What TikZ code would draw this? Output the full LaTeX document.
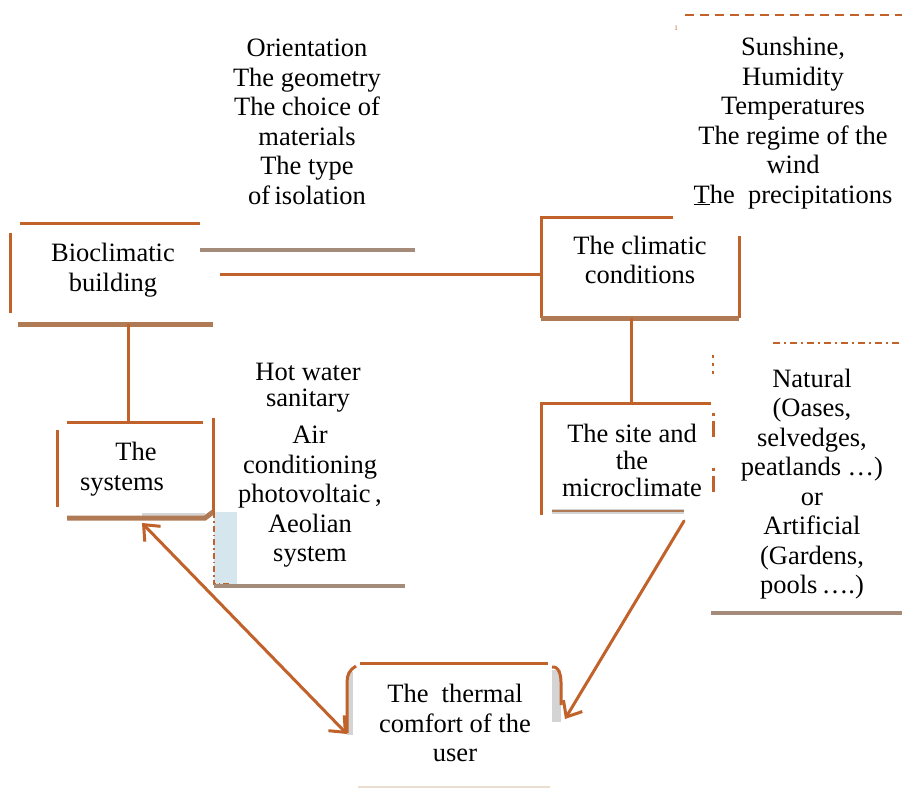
\documentclass[tikz,border=0pt]{standalone}
\usepackage{fontspec}
\setmainfont{Liberation Serif}
\usetikzlibrary{arrows.meta}
\definecolor{rust}{RGB}{192,98,42}
\definecolor{taupe}{RGB}{165,140,122}
\definecolor{brownbar}{RGB}{176,122,85}
\definecolor{lightblue}{RGB}{214,230,238}
\definecolor{shadowgray}{RGB}{212,212,212}
\definecolor{beige}{RGB}{236,222,206}
\tikzset{
  txt/.style={inner sep=0pt, align=center, font=\fontsize{26.5}{29.5}\selectfont},
  rline/.style={draw=rust, line width=3pt},
  tline/.style={draw=taupe, line width=3.5pt},
  bbar/.style={draw=brownbar, line width=5pt},
  arr/.style={draw=rust, line width=3pt, line cap=round,
    arrows={Straight Barb[length=13pt,width=22pt,line width=3pt]-Straight Barb[length=13pt,width=22pt,line width=3pt]}},
  arrone/.style={draw=rust, line width=3pt, line cap=round,
    arrows={-Straight Barb[length=13pt,width=22pt,line width=3pt]}},
}
\begin{document}
\begin{tikzpicture}[x=1pt,y=-1pt]
\fill[white] (0,0) rectangle (902,789);
\useasboundingbox (0,0) rectangle (902,789);

% ---------- text nodes ----------
\node[txt] (params) at (307,122) {Orientation\\The geometry\\The choice of\\materials\\The type\\of\,isolation};
\node[txt] (climlist) at (793,123) {Sunshine,\\Humidity\\Temperatures\\The regime of the\\wind\\\underline{T}he\ \ precipitations};
\node[inner sep=0pt, text=rust, font=\fontsize{7}{8}\selectfont] (one) at (676,28) {1};
\node[txt] (bio) at (113,270) {Bioclimatic\\building};
\node[txt] (clim) at (640,260) {The climatic\\conditions};
\node[txt, font=\fontsize{26.5}{27}\selectfont] (site) at (632,460) {The site and\\the\\microclimate};
\node[txt] (sys) at (122,469) {\hspace*{28pt}The\\systems};
\node[txt, anchor=base] (hot) at (308,380) {Hot water};
\node[txt, anchor=base] (hot2) at (308,406) {sanitary};
\node[txt] (equip) at (310,497) {Air\\conditioning\\photovoltaic\,,\\Aeolian\\system};
\node[txt] (natural) at (812,484) {Natural\\(Oases,\\selvedges,\\peatlands \ldots)\\or\\Artificial\\(Gardens,\\pools\,\ldots.)};

% ---------- top right dashes ----------
\draw[rust, line width=1.6pt, dash pattern=on 9pt off 6pt] (685,15) -- (902,15);
\draw[rust, line width=1.4pt, dash pattern=on 7pt off 4pt on 2pt off 4pt] (773,343) -- (902,343);
\draw[rust, line width=1.2pt, dash pattern=on 3pt off 5pt] (713,355) -- (713,378);

% ---------- Bioclimatic building box ----------
\draw[rline] (20,223) -- (200,223);
\draw[rline] (10,233) -- (10,313);
\draw[bbar] (18,324) -- (213,324);
\draw[tline] (200,250) -- (415,250);

% ---------- climatic conditions box ----------
\draw[rline] (673,217) -- (541,217) -- (541,318);
\draw[rline] (739,236) -- (739,318);
\draw[bbar] (541,318) -- (739,318);

% ---------- site box ----------
\draw[rline] (711,403) -- (541,403) -- (541,515);
\draw[shadowgray, line width=5pt] (552,511) -- (684,511);
\draw[brownbar, line width=1.8pt] (552,511) -- (684,511);
\draw[rust, line width=3pt, dash pattern=on 3pt off 5pt on 16pt off 100pt] (713,413) -- (713,500);
\draw[rust, line width=3pt, dash pattern=on 3pt off 5pt on 16pt off 100pt] (713,468) -- (713,500);

% ---------- natural box ----------
\draw[tline] (711,613) -- (902,613);

% ---------- systems box ----------
\draw[rline] (67,422) -- (203,422);
\draw[rline] (57,430) -- (57,507);
\draw[rline] (213,418) -- (213,515);
\draw[shadowgray, line width=3pt] (142,514) -- (205,514);
\draw[bbar] (67,518) -- (205,518) -- (213,512);

% ---------- equipment list ----------
\fill[lightblue] (214,512) rectangle (237,585);
\draw[rust, line width=1.5pt, dash pattern=on 6pt off 3pt on 1.5pt off 3pt] (214,512) -- (214,584) -- (230,584);
\draw[tline] (214,586) -- (405,586);

% ---------- thermal comfort box ----------
\node[txt] (comfort) at (455,723) {The~ thermal\\comfort of the\\user};
\fill[shadowgray] (347,672) rectangle (353,735);
\fill[shadowgray] (552,670) rectangle (561,722);
\draw[rline] (360,663) -- (548,663);
\draw[rline] (347,733) -- (347,682) to[out=90,in=-150] (356,666);
\draw[rline] (552,667) to[out=10,in=90] (561,682) -- (561,705);
\draw[beige, line width=2pt] (358,787) -- (550,787);

% ---------- connectors ----------
\coordinate (bioR) at (220,274);
\coordinate (climL) at (541,274);
\draw[rline] (bioR) -- (climL);
\coordinate (bioB) at (128,324);
\coordinate (sysT) at (128,422);
\draw[rline] (bioB) -- (sysT);
\coordinate (climB) at (631,318);
\coordinate (siteT) at (631,403);
\draw[rline] (climB) -- (siteT);
\coordinate (sysA) at (142,523);
\coordinate (comfA) at (347,734);
\draw[arr] (sysA) -- (comfA);
\coordinate (siteA) at (684,521);
\coordinate (comfB) at (565,719);
\draw[arrone] (siteA) -- (comfB);
\end{tikzpicture}
\end{document}
